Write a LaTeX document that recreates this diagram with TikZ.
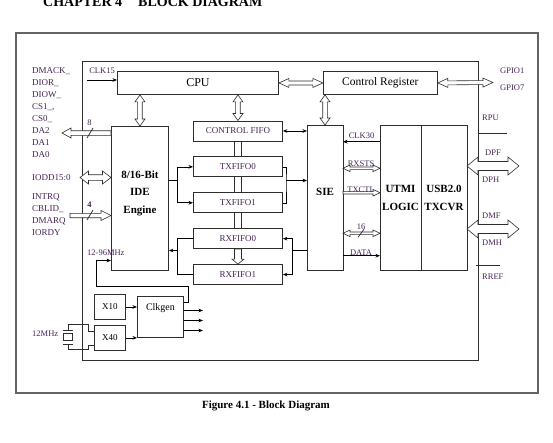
\documentclass[tikz,border=0pt]{standalone}
\usepackage{fontspec}
\setmainfont{Liberation Serif}
\usetikzlibrary{arrows.meta, positioning, calc}

\definecolor{sigtext}{RGB}{70,36,84}
\definecolor{boxline}{RGB}{45,45,45}
\definecolor{framegray}{RGB}{100,100,100}

% hollow bus arrows, drawn as outlines between two points
\tikzset{
  busw/.initial=2.5pt,
  bush/.initial=5pt,
  busl/.initial=8pt,
  bus2/.style={draw=boxline, fill=white, line width=0.6pt, to path={
      ($(\tikztostart)!\pgfkeysvalueof{/tikz/busl}!(\tikztotarget)$) coordinate (busA)
      ($(\tikztotarget)!\pgfkeysvalueof{/tikz/busl}!(\tikztostart)$) coordinate (busB)
      (\tikztostart)
      -- ($(busA)!\pgfkeysvalueof{/tikz/bush}!90:(busB)$)
      -- ($(busA)!\pgfkeysvalueof{/tikz/busw}!90:(busB)$)
      -- ($(busB)!\pgfkeysvalueof{/tikz/busw}!-90:(busA)$)
      -- ($(busB)!\pgfkeysvalueof{/tikz/bush}!-90:(busA)$)
      -- (\tikztotarget)
      -- ($(busB)!\pgfkeysvalueof{/tikz/bush}!90:(busA)$)
      -- ($(busB)!\pgfkeysvalueof{/tikz/busw}!90:(busA)$)
      -- ($(busA)!\pgfkeysvalueof{/tikz/busw}!-90:(busB)$)
      -- ($(busA)!\pgfkeysvalueof{/tikz/bush}!-90:(busB)$)
      -- cycle}},
  bus1/.style={draw=boxline, fill=white, line width=0.6pt, to path={
      ($(\tikztotarget)!\pgfkeysvalueof{/tikz/busl}!(\tikztostart)$) coordinate (busB)
      ($(\tikztostart)!\pgfkeysvalueof{/tikz/busw}!90:(\tikztotarget)$)
      -- ($(busB)!\pgfkeysvalueof{/tikz/busw}!-90:(\tikztostart)$)
      -- ($(busB)!\pgfkeysvalueof{/tikz/bush}!-90:(\tikztostart)$)
      -- (\tikztotarget)
      -- ($(busB)!\pgfkeysvalueof{/tikz/bush}!90:(\tikztostart)$)
      -- ($(busB)!\pgfkeysvalueof{/tikz/busw}!90:(\tikztostart)$)
      -- ($(\tikztostart)!\pgfkeysvalueof{/tikz/busw}!-90:(\tikztotarget)$)
      -- cycle}}
}

\begin{document}
\begin{tikzpicture}[x=1pt, y=-1pt,
  block/.style = {draw=boxline, line width=0.9pt, fill=white, inner sep=0pt, align=center, anchor=north west},
  fifo/.style = {block, minimum width=89pt, minimum height=20pt, text=sigtext, font=\fontsize{9}{10}\selectfont},
  core/.style = {block, outer sep=0pt, minimum height=145pt, font=\fontsize{11}{18}\selectfont\bfseries},
  heading/.style = {inner sep=0pt, font=\fontsize{14}{16}\selectfont\bfseries},
  pins/.style = {inner sep=0pt, anchor=west, align=left, text=sigtext, font=\fontsize{9}{11.9}\selectfont},
  sig/.style = {inner sep=0pt, text=sigtext, font=\fontsize{8.5}{10}\selectfont},
  arrow/.style = {line width=0.6pt, -{Stealth[length=4.5pt, width=3.6pt]}},
  twoway/.style = {line width=0.6pt, {Stealth[length=4.5pt, width=3.6pt]}-{Stealth[length=4.5pt, width=3.6pt]}},
  wire/.style = {line width=0.7pt, draw=boxline}
]

  \useasboundingbox (0,0) rectangle (553,442);

  % chapter heading, cut by the page edge
  \node[heading, anchor=base west] (chapter) at (43,6) {CHAPTER 4};
  \node[heading, anchor=base west] (chaptitle) at (138,6) {BLOCK DIAGRAM};

  % outer frame
  \draw[framegray, line width=1.8pt] (16,33) rectangle (538,393);

  % chip boundary
  \node[block, line width=1pt, minimum width=396pt, minimum height=299pt] (chip) at (82,61) {};

  % CPU
  \node[block, minimum width=161pt, minimum height=23pt, font=\fontsize{12}{14}\selectfont] (cpu) at (117,71) {CPU};

  % Control Register
  \node[block, minimum width=114pt, minimum height=23pt, font=\fontsize{11.5}{14}\selectfont, right=44pt of cpu] (ctrlreg) {Control Register};

  % IDE engine
  \node[block, minimum width=57pt, minimum height=144pt,
    label={[font=\fontsize{11}{17.5}\selectfont\bfseries, align=center, yshift=5.5pt]center:{8/16-Bit\\IDE\\Engine}}] (ide) at (111,126) {};

  % FIFOs
  \node[fifo] (ctrlfifo) at (193,120.5) {CONTROL FIFO};
  \node[fifo, below=15pt of ctrlfifo] (txfifo0) {TXFIFO0};
  \node[fifo, below=15pt of txfifo0] (txfifo1) {TXFIFO1};
  \node[fifo, below=15pt of txfifo1] (rxfifo0) {RXFIFO0};
  \node[fifo, below=15pt of rxfifo0] (rxfifo1) {RXFIFO1};

  % SIE, UTMI and transceiver
  \node[core, minimum width=36pt, text depth=12pt] (sie) at (307,125) {SIE};
  \node[core, minimum width=41pt, right=37pt of sie] (utmi) {UTMI\\LOGIC};
  \node[core, minimum width=46pt, right=0pt of utmi] (txcvr) {USB2.0\\TXCVR};

  % clock blocks
  \node[block, minimum width=31pt, minimum height=25pt, font=\fontsize{9}{10}\selectfont] (x10) at (94,294) {X10};
  \node[block, minimum width=31pt, minimum height=25pt, font=\fontsize{9}{10}\selectfont, below=5pt of x10] (x40) {X40};
  \node[block, minimum width=46pt, minimum height=41pt, font=\fontsize{10}{12}\selectfont, text depth=19pt] (clkgen) at (137,296) {Clkgen};

  % CPU buses
  \coordinate (gpio) at (493,82.5);
  \draw[bus2, busw=2pt, bush=4.5pt, busl=10pt] (cpu.east) to (ctrlreg.west);
  \draw[bus2, busw=2pt, bush=4.5pt, busl=10pt] (ctrlreg.east) to (gpio);
  \draw[bus2, busw=2.3pt, bush=5pt, busl=7pt] (ide.north) to (ide.north |- cpu.south);
  \draw[bus2, busw=2.3pt, bush=5pt, busl=7pt] (ctrlfifo.north) to (ctrlfifo.north |- cpu.south);
  \draw[bus2, busw=2.3pt, bush=5pt, busl=7pt] (sie.north) to (sie.north |- ctrlreg.south);
  \node[sig, anchor=west] (gpio1) at (500,71) {GPIO1};
  \node[sig, anchor=west] (gpio7) at (500,87.5) {GPIO7};

  % CLK15 -> CPU
  \coordinate (clk15) at (87,80);
  \draw[arrow] (clk15) -- node[sig, above=6pt] (clk15lbl) {CLK15} (clk15 -| cpu.west);

  % IDE pins
  \node[pins, anchor=north west] (idepins) at (32,67.7) {DMACK\_\\DIOR\_\\DIOW\_\\CS1\_,\\CS0\_\\DA2\\DA1\\DA0};
  \node[pins] (ioddlbl) at (32,177.5) {IODD15:0};
  \node[pins, anchor=north west] (ctrlpins) at (32,193.7) {INTRQ\\CBLID\_\\DMARQ\\IORDY};

  % DA bus, 8 wide
  \coordinate (dabus) at (62,133);
  \draw[bus1, busw=2.3pt, bush=5pt, busl=9pt] (dabus -| ide.west) to (dabus);
  \draw[wire] (87,138) -- (93,128);
  \node[sig] (width8) at (89.5,123) {8};

  % IODD bus
  \coordinate (ioddbus) at (80,177.5);
  \draw[bus2, busw=2.8pt, bush=6.5pt, busl=8.5pt] (ioddbus) to (ioddbus -| ide.west);

  % control inputs, 4 wide
  \coordinate (irqbus) at (70,215.5);
  \draw[bus1, busw=2.2pt, bush=5pt, busl=10pt] (irqbus) to (irqbus -| ide.west);
  \draw[wire] (87,220) -- (93,210);
  \node[sig, font=\fontsize{8.5}{10}\selectfont\bfseries] (width4) at (89.5,205) {4};

  % data path through the FIFO stack
  \draw[wire] ($(ctrlfifo.south)+(-3.5,0)$) -- ($(txfifo0.north)+(-3.5,0)$)
              ($(txfifo0.south)+(-3.5,0)$) -- ($(txfifo1.north)+(-3.5,0)$)
              ($(txfifo1.south)+(-3.5,0)$) -- ($(rxfifo0.north)+(-3.5,0)$);
  \draw[wire] ($(ctrlfifo.south)+(3.5,0)$) -- ($(txfifo0.north)+(3.5,0)$)
              ($(txfifo0.south)+(3.5,0)$) -- ($(txfifo1.north)+(3.5,0)$)
              ($(txfifo1.south)+(3.5,0)$) -- ($(rxfifo0.north)+(3.5,0)$);
  \draw[bus1, busw=3.5pt, bush=6pt, busl=5pt] (rxfifo0.south) to (rxfifo1.north);

  % IDE -> TX FIFOs
  \coordinate (txsplit) at (177.5,180);
  \draw (txsplit -| ide.east) -- (txsplit);
  \draw[arrow] (txsplit) |- (txfifo0.west);
  \draw[arrow] (txsplit) |- (txfifo1.west);

  % RX FIFOs -> IDE
  \coordinate (rxsplit) at (177.5,250.5);
  \draw (rxfifo0.west) -| (rxsplit) |- (rxfifo1.west);
  \draw[arrow] (rxsplit) -- (rxsplit -| ide.east);

  % TX FIFOs -> SIE
  \coordinate (txjoin) at (286,180.5);
  \draw (txfifo0.east) -| (txjoin) |- (txfifo1.east);
  \draw[arrow] (txjoin) -- (txjoin -| sie.west);

  % SIE -> RX FIFOs
  \coordinate (rxjoin) at (292,250.5);
  \draw (rxjoin -| sie.west) -- (rxjoin);
  \draw[arrow] (rxjoin) |- (rxfifo0.east);
  \draw[arrow] (rxjoin) |- (rxfifo1.east);

  % CONTROL FIFO <-> SIE
  \draw[twoway] (ctrlfifo.east) -- (ctrlfifo.east -| sie.west);

  % SIE <-> UTMI signals
  \coordinate (clk30) at (361,141.7);
  \coordinate (rxsts) at (361,168.3);
  \coordinate (txctl) at (361,192.7);
  \coordinate (bus16) at (361,233.3);
  \coordinate (data) at (361,255.7);
  \draw[arrow] (clk30 -| utmi.west) -- node[sig, above=2.5pt] (clk30lbl) {CLK30} (clk30 -| sie.east);
  \draw[bus2, busw=1.3pt, bush=3.3pt, busl=7pt] (rxsts -| sie.east) to (rxsts -| utmi.west);
  \node[sig, above=2pt of rxsts] (rxstslbl) {RXSTS};
  \draw[bus1, busw=1.3pt, bush=3.3pt, busl=7pt] (txctl -| sie.east) to (txctl -| utmi.west);
  \node[sig, above=-0.5pt of txctl] (txctllbl) {TXCTL};
  \draw[bus2, busw=1.3pt, bush=3.3pt, busl=7pt] (bus16 -| sie.east) to (bus16 -| utmi.west);
  \draw[wire] ($(bus16)+(-3,4)$) -- ($(bus16)+(3,-4)$);
  \node[sig, above=3.5pt of bus16] (width16) {16};
  \draw[arrow] (data -| sie.east) -- (data -| utmi.west);
  \node[sig, above=0pt of data] (datalbl) {DATA};

  % USB pins
  \coordinate (rpu) at (507,133);
  \draw[wire] ($(rpu -| chip.east)+(-1,0)$) -- (rpu);
  \node[sig, anchor=west] (rpulbl) at (482,118) {RPU};
  \coordinate (dp) at (519,166);
  \draw[bus2, busw=4.5pt, bush=9pt, busl=11pt] (dp -| txcvr.east) to (dp);
  \node[sig, anchor=west] (dpf) at (485,153) {DPF};
  \node[sig, anchor=west] (dph) at (482,180) {DPH};
  \coordinate (dm) at (519,229);
  \draw[bus2, busw=4.5pt, bush=9pt, busl=11pt] (dm -| txcvr.east) to (dm);
  \node[sig, anchor=west] (dmf) at (482,216) {DMF};
  \node[sig, anchor=west] (dmh) at (482,243) {DMH};
  \coordinate (rref) at (500,265);
  \draw[wire] ($(rref -| chip.east)+(-3,0)$) -- (rref);
  \node[sig, anchor=west] (rreflbl) at (482,277) {RREF};

  % clock generation
  \draw[arrow] (x10.east) -- (x10.east -| clkgen.west);
  \draw[arrow] (x40.east) -- (x40.east -| clkgen.west);
  \draw[arrow] ($(clkgen.north east)+(0,14.5)$) -- ++(19,0);
  \draw[arrow] ($(clkgen.north east)+(0,24.5)$) -- ++(19,0);
  \draw[arrow] ($(clkgen.north east)+(0,34.5)$) -- ++(19,0);

  % 12-96MHz clock back to the IDE engine
  \coordinate (clkturn) at (188,286);
  \coordinate (clkin) at (96,260.5);
  \draw[arrow] ($(clkgen.north east)+(0,6)$) -| (clkturn) -| (clkin) -- (clkin -| ide.west);
  \node[sig, anchor=west] (clklbl) at (87,252.5) {12-96MHz};

  % 12MHz crystal
  \coordinate (xtal) at (68,337);
  \draw[wire] ($(xtal)+(-5,-7)$) -- ++(10,0);
  \draw[wire] ($(xtal)+(-4.5,-3.5)$) rectangle ++(9,7);
  \draw[wire] ($(xtal)+(-5,7)$) -- ++(10,0);
  \draw[wire] ($(xtal)+(0,-7)$) |- ($(xtal)+(20,-12.7)$) |- ($(x40.west)+(0,-7)$);
  \draw[wire] ($(xtal)+(0,7)$) |- ($(xtal)+(20,12.3)$) |- ($(x40.west)+(0,7.5)$);
  \node[sig, anchor=west] (xtallbl) at (32,333.5) {12MHz};

  % caption
  \node[inner sep=0pt, font=\fontsize{11}{13}\selectfont\bfseries] (caption) at (266,405.5) {Figure 4.1 - Block Diagram};

\end{tikzpicture}
\end{document}
